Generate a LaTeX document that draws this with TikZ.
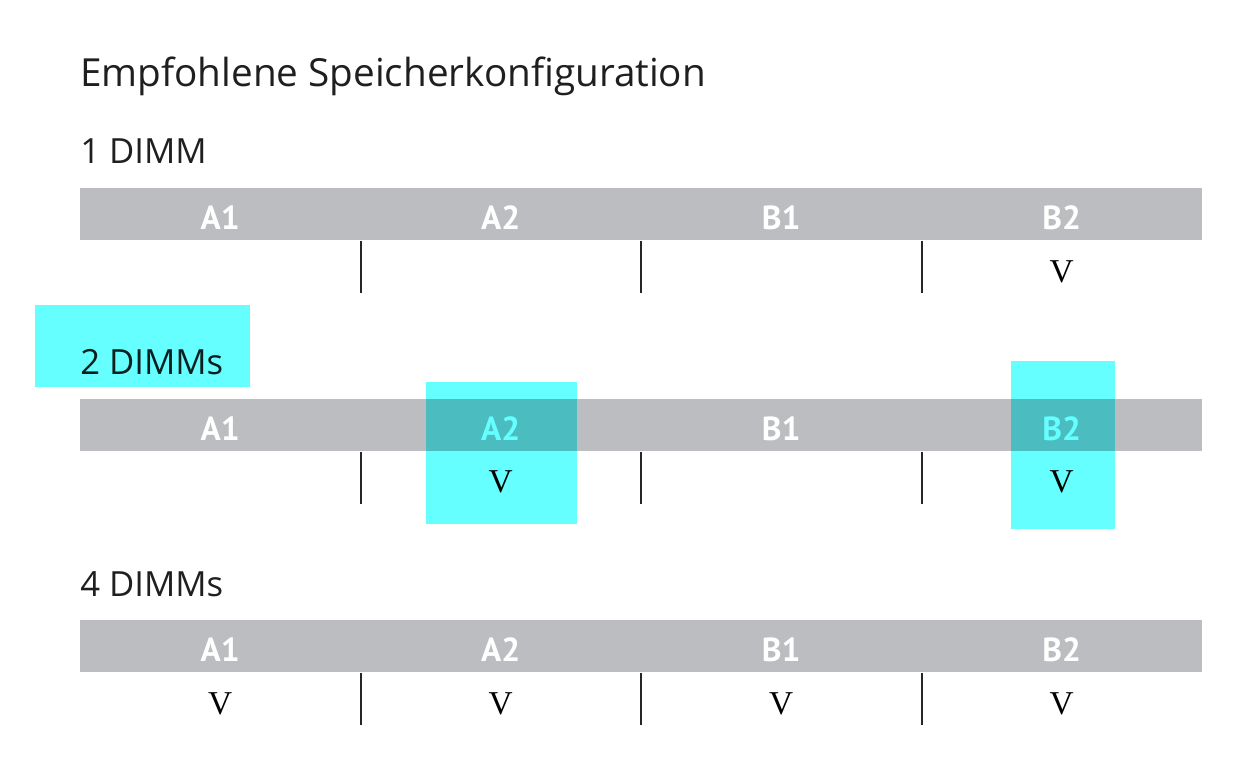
\documentclass[tikz,border=0pt]{standalone}
\usepackage{fontspec}
\setmainfont{Liberation Serif}
\setsansfont{PT Sans}
\newfontfamily\headfont{Open Sans}
\usetikzlibrary{positioning}

\definecolor{slotgray}{HTML}{BCBDC0}
\definecolor{marker}{HTML}{66FFFF}

\begin{document}
\begin{tikzpicture}[
  x=0.75pt, y=-0.75pt,
  heading/.style={anchor=base west, inner sep=0pt, text=black!88,
    font=\headfont\fontsize{26}{26}\selectfont},
  bar/.style={fill=slotgray, anchor=north west, inner sep=0pt,
    minimum width=841.5pt, minimum height=39pt},
  slot/.style={anchor=base, inner sep=0pt, text=white,
    font=\sffamily\bfseries\fontsize{25}{25}\selectfont},
  tick/.style={anchor=base, inner sep=0pt, font=\rmfamily\fontsize{25}{25}\selectfont},
  divider/.style={line width=1.5pt, black!85}
]
\fill[white] (0,0) rectangle (1254,771);
\useasboundingbox (0,0) rectangle (1254,771);

% headings
\node[heading, font=\headfont\fontsize{29}{29}\selectfont] (title) at (80,86)
  {Empfohlene Speicherkonfiguration};
\node[heading] (head1) at (80,163) {1 DIMM};
\node[heading] (head2) at (80,374) {2 DIMMs};
\node[heading] (head4) at (80,596) {4 DIMMs};

% slot bars
\node[bar] (bar1) at (80,188) {};
\node[bar] (bar2) at (80,399) {};
\node[bar] (bar4) at (80,620) {};

\foreach \name/\x in {A1/220.25, A2/500.75, B1/781.25, B2/1061.75} {
  \node[slot] (\name-1) at (\x,229) {\name};
  \node[slot] (\name-2) at (\x,440) {\name};
  \node[slot] (\name-4) at (\x,661) {\name};
}

% column dividers under the bars
\foreach \x in {360.5, 641, 921.5} {
  \draw[divider] (bar1.south -| \x,0) -- ++(0,52);
  \draw[divider] (bar2.south -| \x,0) -- ++(0,52);
  \draw[divider] (bar4.south -| \x,0) -- ++(0,52);
}

% populated slots
\node[tick] (v-B2-1) at (1061.75,282) {V};
\node[tick] (v-A2-2) at (500.75,492) {V};
\node[tick] (v-B2-2) at (1061.75,492) {V};
\node[tick] (v-A1-4) at (220.25,714) {V};
\node[tick] (v-A2-4) at (500.75,714) {V};
\node[tick] (v-B1-4) at (781.25,714) {V};
\node[tick] (v-B2-4) at (1061.75,714) {V};

% highlights
\begin{scope}[blend mode=multiply]
  \fill[marker] (35,305) rectangle (250,387);
  \fill[marker] (426,382) rectangle (577,524);
  \fill[marker] (1011,361) rectangle (1115,529);
\end{scope}
\end{tikzpicture}
\end{document}
